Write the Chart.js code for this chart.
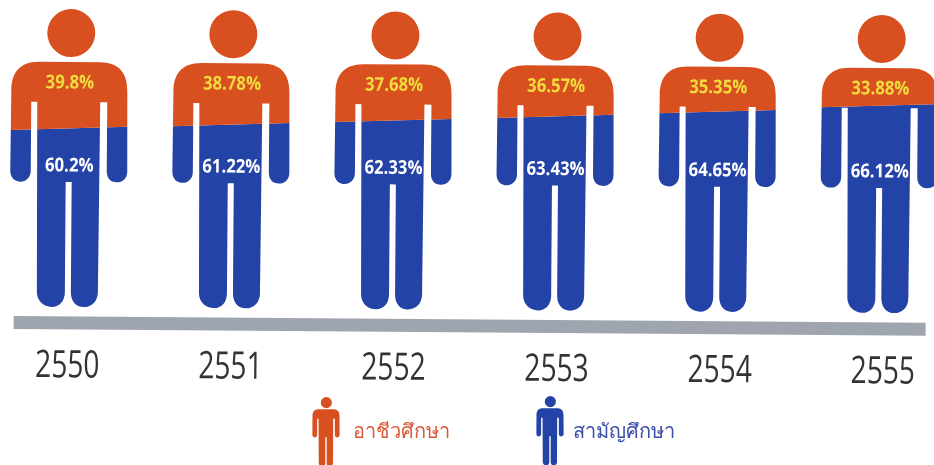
<!DOCTYPE html>
<html>
<head>
<meta charset="utf-8">
<style>html,body{margin:0;padding:0;background:#fff;overflow:hidden}canvas{display:block}</style>
<script src="https://cdn.jsdelivr.net/npm/chart.js@4"></script>
</head>
<body>
<canvas id="c" width="934" height="465"></canvas>
<script>
const years = ['2550','2551','2552','2553','2554','2555'];
const vocational = [39.8,38.78,37.68,36.57,35.35,33.88];
const general = [60.2,61.22,62.33,63.43,64.65,66.12];
const vocationalLabels = ['39.8%','38.78%','37.68%','36.57%','35.35%','33.88%'];
const generalLabels = ['60.2%','61.22%','62.33%','63.43%','64.65%','66.12%'];
const vocationalName = 'อาชีวศึกษา';
const generalName = 'สามัญศึกษา';
const ORANGE = '#D8501F', BLUE = '#2343A6';
const TILT = 0.42 * Math.PI / 180;
const THAI = '"Noto Sans","DejaVu Sans",sans-serif';
const HUMANIST = '"Open Sans","Liberation Sans",sans-serif';

function squeezedText(ctx, str, x, y, k) {
  ctx.save();
  ctx.translate(x, y);
  ctx.scale(k, 1);
  ctx.textAlign = 'center';
  ctx.textBaseline = 'middle';
  ctx.fillText(str, 0, 0);
  ctx.restore();
}

function personPath(ctx, cx, top, s) {
  const X = v => cx + v * s, Y = v => top + v * s;
  ctx.beginPath();
  ctx.arc(X(1.5), Y(24), 24 * s, 0, Math.PI * 2);
  ctx.closePath();
  ctx.moveTo(X(-30), Y(53));
  ctx.lineTo(X(30), Y(53));
  ctx.bezierCurveTo(X(50), Y(53), X(58), Y(64), X(58), Y(82));
  ctx.lineTo(X(58.5), Y(162));
  ctx.bezierCurveTo(X(58.5), Y(169), X(54), Y(173), X(48), Y(173));
  ctx.bezierCurveTo(X(42), Y(173), X(38), Y(169), X(38), Y(162));
  ctx.lineTo(X(38), Y(93));
  ctx.lineTo(X(31), Y(93));
  ctx.lineTo(X(30), Y(283));
  ctx.bezierCurveTo(X(30), Y(292), X(24), Y(298), X(16), Y(298));
  ctx.bezierCurveTo(X(8), Y(298), X(3), Y(292), X(3), Y(283));
  ctx.lineTo(X(3), Y(173));
  ctx.lineTo(X(-3), Y(173));
  ctx.lineTo(X(-3), Y(283));
  ctx.bezierCurveTo(X(-3), Y(292), X(-8), Y(298), X(-16), Y(298));
  ctx.bezierCurveTo(X(-24), Y(298), X(-31), Y(292), X(-31), Y(283));
  ctx.lineTo(X(-32), Y(93));
  ctx.lineTo(X(-38), Y(93));
  ctx.lineTo(X(-38), Y(162));
  ctx.bezierCurveTo(X(-38), Y(169), X(-43), Y(173), X(-48), Y(173));
  ctx.bezierCurveTo(X(-54), Y(173), X(-58.5), Y(169), X(-58.5), Y(162));
  ctx.lineTo(X(-58), Y(82));
  ctx.bezierCurveTo(X(-58), Y(64), X(-50), Y(53), X(-30), Y(53));
  ctx.closePath();
}

const pictogram = {
  id: 'pictogram',
  beforeDraw(chart) {
    chart.ctx.save();
    chart.ctx.rotate(TILT);
  },
  beforeDatasetsDraw(chart) {
    const ctx = chart.ctx, y = chart.scales.y, x = chart.scales.x;
    ctx.fillStyle = '#9FA5AF';
    ctx.fillRect(chart.chartArea.left - 54, y.bottom + 9.5, 912, 13);
    const metaG = chart.getDatasetMeta(0), metaV = chart.getDatasetMeta(1);
    years.forEach((_, i) => {
      const cx = metaG.data[i].x;
      ctx.save();
      personPath(ctx, cx, y.top, 1);
      ctx.clip();
      const by = metaG.data[i].y;
      ctx.translate(cx, by);
      ctx.transform(1, -0.034, 0, 1, 0, 0);
      ctx.translate(-cx, -by);
      metaG.data[i].draw(ctx);
      metaV.data[i].draw(ctx);
      ctx.restore();
      ctx.font = 'bold 19px ' + HUMANIST;
      ctx.fillStyle = '#F0DC3C';
      squeezedText(ctx, vocationalLabels[i], cx + 0.5, y.top + 74, 0.88);
      ctx.fillStyle = '#FFFFFF';
      squeezedText(ctx, generalLabels[i], cx + 0.5, y.top + 157, 0.88);
      ctx.font = '38px ' + HUMANIST;
      ctx.fillStyle = '#333333';
      squeezedText(ctx, x.getLabelForValue(i), x.getPixelForTick(i) + i, y.bottom + 59.5, 0.74);
    });
    return false;
  },
  afterDraw(chart) {
    const ctx = chart.ctx;
    ctx.restore();
    const items = [
      { name: vocationalName, color: ORANGE, text: '#D9593A', ix: 326, top: 397, tx: 353 },
      { name: generalName, color: BLUE, text: '#3B50A6', ix: 550, top: 396, tx: 573 }
    ];
    items.forEach(it => {
      ctx.fillStyle = it.color;
      personPath(ctx, it.ix, it.top, 0.233);
      ctx.fill();
      ctx.fillStyle = it.text;
      ctx.font = '20px ' + THAI;
      ctx.textAlign = 'left';
      ctx.textBaseline = 'middle';
      ctx.fillText(it.name, it.tx, 432);
    });
  }
};

new Chart(document.getElementById('c'), {
  type: 'bar',
  data: {
    labels: years,
    datasets: [
      { label: generalName, data: general, backgroundColor: BLUE, borderWidth: 0, categoryPercentage: 0.9, barPercentage: 1 },
      { label: vocationalName, data: vocational, backgroundColor: ORANGE, borderWidth: 0, categoryPercentage: 0.9, barPercentage: 1 }
    ]
  },
  options: {
    responsive: false,
    animation: false,
    layout: { padding: { left: 70, right: 53.5, top: 8.5, bottom: 0 } },
    plugins: { legend: { display: false }, tooltip: { enabled: false } },
    scales: {
      x: {
        stacked: true,
        offset: false,
        grid: { display: false },
        border: { display: false },
        afterFit(scale) { scale.height = 158.5; },
        ticks: { display: false, autoSkip: false }
      },
      y: { stacked: true, display: false, min: 23.4, max: 84.8 }
    }
  },
  plugins: [pictogram]
});
</script>
</body>
</html>
